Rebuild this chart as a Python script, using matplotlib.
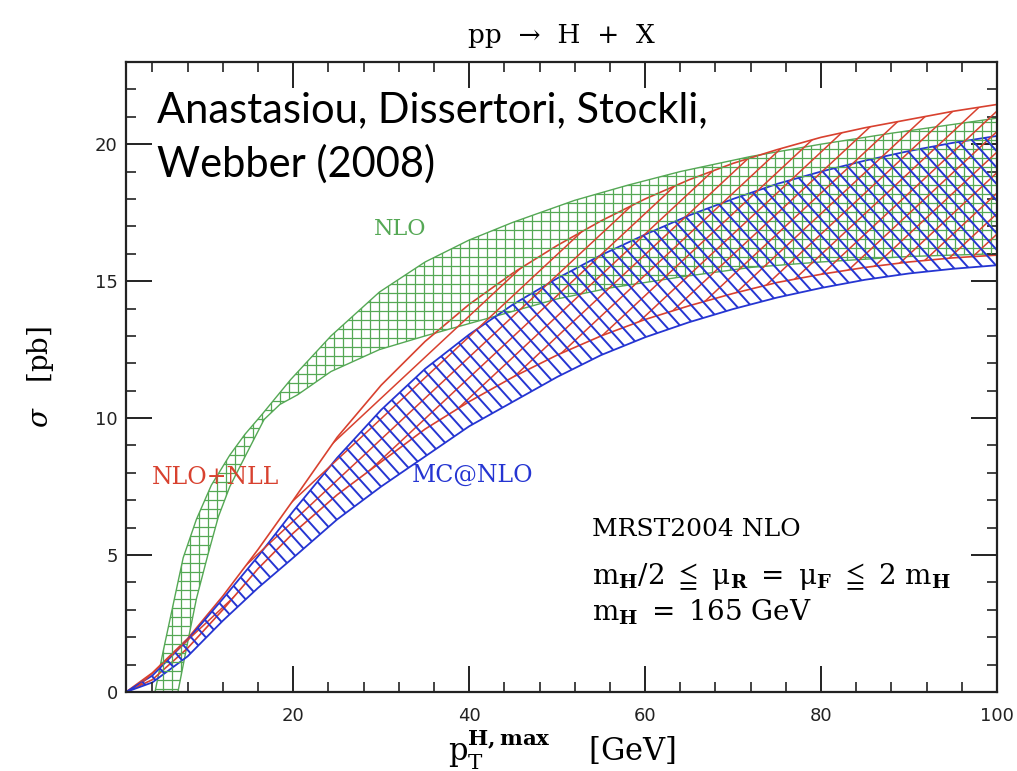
import numpy as np
import matplotlib
matplotlib.use("Agg")
import matplotlib.pyplot as plt
from matplotlib.patches import Polygon
from matplotlib.collections import LineCollection
from matplotlib.transforms import Affine2D

plt.rcParams['mathtext.fontset'] = 'dejavuserif'

# NLO band (green), edges
nlo_up_pt = [3.5, 4.3, 5.2, 6.3, 7.5, 9.0, 10.7, 12.8, 14.5, 16.5, 19.7, 24.3, 29.8, 35, 40, 45, 52, 58, 64, 72, 80, 88, 100]
nlo_up_sig = [-1.2, 0, 1.45, 3.1, 4.9, 6.3, 7.55, 8.65, 9.4, 10.15, 11.4, 13.0, 14.6, 15.7, 16.5, 17.15, 17.95, 18.5, 19.0, 19.55, 20.0, 20.4, 20.95]
nlo_lo_pt = [6.2, 6.9, 8.0, 9.0, 10.3, 11.5, 12.8, 14.7, 16.7, 18.5, 20.5, 24.3, 29.8, 35, 40, 45, 50, 56, 64, 72, 80, 90, 100]
nlo_lo_sig = [-1.2, 0, 1.8, 3.4, 5.0, 6.4, 7.5, 8.7, 9.95, 10.5, 10.85, 11.7, 12.5, 13.0, 13.45, 13.9, 14.35, 14.75, 15.15, 15.5, 15.7, 15.9, 16.0]

# NLO+NLL (red) and MC@NLO (blue) bands
pt = [1, 4, 8, 12, 16, 20, 25, 30, 35, 40, 45, 50, 55, 60, 65, 70, 75, 80, 85, 90, 95, 100]
nll_up = [0, 0.7, 1.95, 3.5, 5.2, 7.0, 9.3, 11.2, 12.8, 14.15, 15.3, 16.3, 17.2, 18.0, 18.7, 19.3, 19.8, 20.25, 20.6, 20.9, 21.2, 21.45]
nll_lo = [0, 0.45, 1.6, 3.0, 4.5, 5.8, 7.2, 8.4, 9.6, 10.6, 11.5, 12.3, 13.0, 13.6, 14.1, 14.55, 14.95, 15.25, 15.5, 15.7, 15.85, 15.95]
mc_up = [0, 0.6, 1.9, 3.4, 4.95, 6.6, 8.55, 10.3, 11.8, 13.05, 14.15, 15.1, 15.95, 16.7, 17.4, 18.0, 18.55, 19.0, 19.4, 19.75, 20.05, 20.3]
mc_lo = [0, 0.35, 1.3, 2.6, 3.8, 4.9, 6.3, 7.5, 8.6, 9.7, 10.6, 11.5, 12.3, 12.95, 13.5, 13.98, 14.4, 14.75, 15.05, 15.28, 15.45, 15.58]

GREEN = '#55a855'
RED = '#d8412f'
BLUE = '#2535d2'

W, H, DPI = 10.17, 7.71, 100
L, B, R, T = 126 / 1017, 1 - 692 / 771, 997 / 1017, 1 - 62 / 771
AX_W, AX_H = (R - L) * W * DPI, (T - B) * H * DPI

fig = plt.figure(figsize=(W, H), dpi=DPI)
ax = fig.add_axes([L, B, R - L, T - B])
ax.set_xlim(1, 100)
ax.set_ylim(0, 23)


def hatch_band(x_up, y_up, x_lo, y_lo, color, angles, spacing, lw, edge_lw):
    xs = np.r_[x_up, x_lo[::-1]]
    ys = np.r_[y_up, y_lo[::-1]]
    poly = Polygon(np.column_stack([xs, ys]), closed=True, facecolor='none',
                   edgecolor=color, lw=edge_lw)
    ax.add_patch(poly)
    # parallel lines in pixel units over the axes box
    px = Affine2D().scale(1 / AX_W, 1 / AX_H) + ax.transAxes
    diag = np.hypot(AX_W, AX_H)
    c = np.array([AX_W / 2, AX_H / 2])
    segs = []
    for a in angles:
        t = np.deg2rad(a)
        d = np.array([np.cos(t), np.sin(t)])
        n = np.array([-np.sin(t), np.cos(t)])
        for o in np.arange(-diag / 2, diag / 2, spacing):
            segs.append([c + o * n - diag * d, c + o * n + diag * d])
    lc = LineCollection(segs, colors=color, linewidths=lw, transform=px)
    lc.set_clip_path(poly)
    lc.set_clip_box(ax.bbox)
    ax.add_collection(lc)


hatch_band(nlo_up_pt, nlo_up_sig, nlo_lo_pt, nlo_lo_sig, GREEN, [0, 90], 9, 0.9, 1.0)
hatch_band(pt, nll_up, pt, nll_lo, RED, [43], 15, 1.1, 1.2)
hatch_band(pt, mc_up, pt, mc_lo, BLUE, [-48], 11, 1.4, 1.3)

# axes styling
ax.set_xticks([20, 40, 60, 80, 100])
ax.set_yticks([0, 5, 10, 15, 20])
ax.xaxis.set_minor_locator(matplotlib.ticker.MultipleLocator(4))
ax.yaxis.set_minor_locator(matplotlib.ticker.MultipleLocator(1))
ax.tick_params(which='both', direction='in', top=True, right=True, color='#222')
ax.tick_params(which='major', length=19, width=1.4, labelsize=13, labelcolor='#222')
ax.tick_params(which='minor', length=7, width=1.2)
ax.tick_params(axis='x', which='major', pad=11)
ax.tick_params(axis='y', which='major', pad=6)
for s in ax.spines.values():
    s.set_linewidth(1.6)
    s.set_color('#222')

serif = 'DejaVu Serif'
pix = lambda x, y: (x / 1017, 1 - y / 771)

fig.text(*pix(561, 36), 'pp  →  H  +  X', ha='center', va='center',
         family=serif, fontsize=19)
ax.set_ylabel(r'$\sigma$   [pb]', family=serif, fontsize=20, labelpad=28)
ax.set_xlabel(r'$\mathrm{p}_\mathrm{T}^{\mathbf{H,max}}$    [GeV]', family=serif,
              fontsize=22, labelpad=2)

fig.text(*pix(157, 122), 'Anastasiou, Dissertori, Stockli,', family='Lato',
         fontsize=30, ha='left', va='baseline')
fig.text(*pix(157, 177), 'Webber (2008)', family='Lato',
         fontsize=30, ha='left', va='baseline')

fig.text(*pix(400, 229), 'NLO', color=GREEN, family=serif, fontsize=16, ha='center', va='center')
fig.text(*pix(216, 478), 'NLO+NLL', color=RED, family=serif, fontsize=17, ha='center', va='center')
fig.text(*pix(473, 475), 'MC@NLO', color=BLUE, family=serif, fontsize=17, ha='center', va='center')

fig.text(*pix(592, 529), 'MRST2004 NLO', family=serif, fontsize=18, ha='left', va='center')
fig.text(*pix(592, 577),
         r'$\mathrm{m_{\mathbf{H}}/2\ \leqq\ \mu_{\mathbf{R}}\ =\ \mu_{\mathbf{F}}\ \leqq\ 2\ m_{\mathbf{H}}}$',
         family=serif, fontsize=20, ha='left', va='center')
fig.text(*pix(592, 612), r'$\mathrm{m_{\mathbf{H}}\ =\ 165\ GeV}$', family=serif,
         fontsize=20, ha='left', va='center')

fig.savefig('out.png', dpi=DPI)
